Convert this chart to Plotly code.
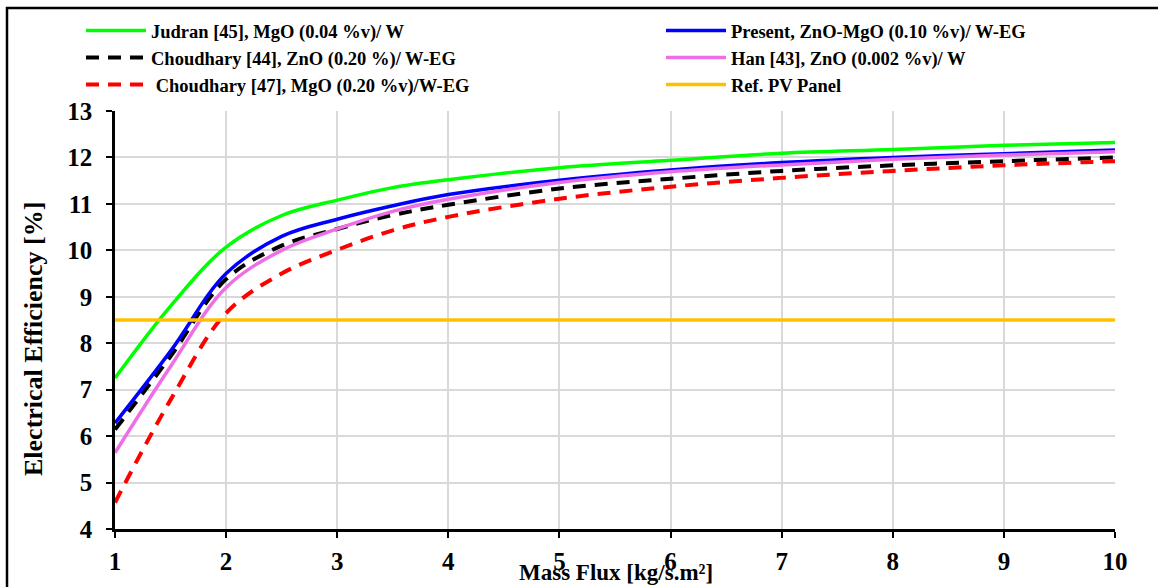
import plotly.graph_objects as go

mass_flux = [1, 1.5, 2, 2.5, 3, 3.5, 4, 5, 6, 7, 8, 9, 10]

judran = [7.25, 8.8, 10.07, 10.75, 11.08, 11.35, 11.52, 11.78, 11.94, 12.09, 12.17, 12.26, 12.32]
present = [6.28, 7.83, 9.5, 10.3, 10.67, 10.96, 11.2, 11.51, 11.73, 11.89, 12.0, 12.08, 12.16]
choudhary44 = [6.14, 7.72, 9.38, 10.1, 10.46, 10.76, 10.98, 11.33, 11.54, 11.71, 11.83, 11.92, 12.0]
han = [5.64, 7.5, 9.2, 10.0, 10.46, 10.84, 11.1, 11.46, 11.69, 11.84, 11.96, 12.05, 12.12]
choudhary47 = [4.57, 6.78, 8.65, 9.5, 10.01, 10.43, 10.72, 11.11, 11.37, 11.56, 11.71, 11.83, 11.92]
ref_pv = [8.5] * len(mass_flux)

x_ticks = [1, 2, 3, 4, 5, 6, 7, 8, 9, 10]
y_ticks = [4, 5, 6, 7, 8, 9, 10, 11, 12, 13]

FONT = "Liberation Serif, Times New Roman, serif"

fig = go.Figure()

def add(y, name, color, dash, width, legend, group):
    fig.add_trace(go.Scatter(
        x=mass_flux, y=y, name=name, mode="lines",
        line=dict(color=color, width=width, dash=dash, shape="spline", smoothing=1.0),
        legend=legend, legendgroup=group,
    ))

add(judran, "Judran [45], MgO (0.04 %v)/ W", "#00ff00", "solid", 3.5, "legend", "a")
add(choudhary44, "Choudhary [44], ZnO (0.20 %)/ W-EG", "#000000", "13px,9px", 4, "legend", "b")
add(choudhary47, " Choudhary [47], MgO (0.20 %v)/W-EG", "#ff0000", "13px,9px", 4, "legend", "c")
add(present, "Present, ZnO-MgO (0.10 %v)/ W-EG", "#0000ff", "solid", 3.5, "legend2", "d")
add(han, "Han [43], ZnO (0.002 %v)/ W", "#ee6ee8", "solid", 3.5, "legend2", "e")
fig.add_trace(go.Scatter(
    x=mass_flux, y=ref_pv, name="Ref. PV Panel", mode="lines",
    line=dict(color="#ffc000", width=3.5), legend="legend2", legendgroup="f",
))

legend_common = dict(
    font=dict(family=FONT, size=18.5, color="black", weight="bold"),
    bgcolor="rgba(0,0,0,0)", itemwidth=60, traceorder="grouped",
    tracegroupgap=0, xanchor="left", yanchor="top", orientation="v",
)

fig.update_layout(
    width=1158, height=587,
    margin=dict(l=115, r=43, t=111, b=58),
    paper_bgcolor="white", plot_bgcolor="white",
    font=dict(family=FONT, color="black"),
    showlegend=True,
    legend=dict(x=-0.034, y=1.237, **legend_common),
    legend2=dict(x=0.546, y=1.237, **legend_common),
    xaxis=dict(
        range=[1, 10], tickvals=x_ticks, ticktext=[str(v) for v in x_ticks],
        showgrid=True, gridcolor="#d9d9d9", gridwidth=1.5,
        showline=True, linecolor="black", linewidth=2.5,
        ticks="outside", ticklen=6, tickwidth=2, tickcolor="black",
        tickfont=dict(family=FONT, size=25, color="black", weight="bold"),
        ticklabelstandoff=2, zeroline=False,
    ),
    yaxis=dict(
        range=[4, 13], tickvals=y_ticks, ticktext=[str(v) for v in y_ticks],
        showgrid=True, gridcolor="#d9d9d9", gridwidth=1.5,
        showline=True, linecolor="black", linewidth=2.5,
        ticks="outside", ticklen=6, tickwidth=2, tickcolor="black",
        tickfont=dict(family=FONT, size=25, color="black", weight="bold"),
        ticklabelstandoff=9, zeroline=False,
    ),
    annotations=[
        dict(text="Electrical Efficiency [%]", xref="paper", yref="paper",
             x=-0.082, y=0.4545, textangle=-90, showarrow=False,
             xanchor="center", yanchor="middle",
             font=dict(family=FONT, size=26, color="black", weight="bold")),
        dict(text="Mass Flux [kg/s.m²]", xref="paper", yref="paper",
             x=0.501, y=-0.104, showarrow=False,
             xanchor="center", yanchor="middle",
             font=dict(family=FONT, size=23, color="black", weight="bold")),
    ],
    shapes=[
        dict(type="rect", xref="paper", yref="paper",
             x0=-0.108, y0=-0.3, x1=1.2, y1=1.2464,
             line=dict(color="black", width=2.5), fillcolor="rgba(0,0,0,0)",
             layer="below"),
    ],
)

fig.write_html("out.html")
